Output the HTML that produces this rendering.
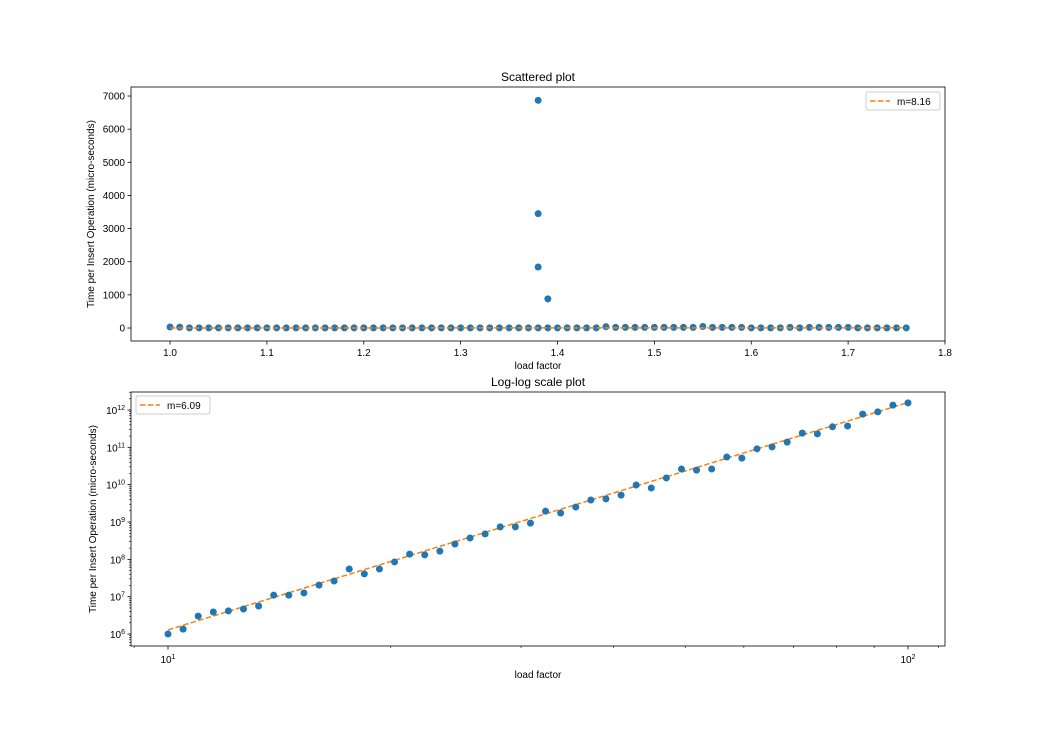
<!DOCTYPE html>
<html><head><meta charset="utf-8"><style>
body{margin:0;background:#fff}
svg text{font-family:"Liberation Sans","DejaVu Sans",sans-serif;fill:#000}
</style></head><body>
<svg id="s" width="1050" height="725" xmlns="http://www.w3.org/2000/svg"></svg>
<script>
const topX0=1.00, topStep=0.01;
const topValues=[30,25,5,5,5,5,5,5,5,5,5,5,5,5,5,5,5,5,5,5,5,5,5,5,5,5,5,5,5,5,5,5,5,5,5,5,5,5,5,5,5,5,5,5,5,40,20,20,20,20,20,20,20,20,20,45,20,20,20,20,5,5,5,5,20,5,20,20,20,20,20,5,5,5,5,5,5];
const outlierX=[1.38,1.38,1.38,1.39];
const outlierY=[6870,3450,1840,880];
const topSlope=8.16, topIntercept=0;
const topXTicks=[1.0,1.1,1.2,1.3,1.4,1.5,1.6,1.7,1.8];
const topXLabels=["1.0","1.1","1.2","1.3","1.4","1.5","1.6","1.7","1.8"];
const topYTicks=[0,1000,2000,3000,4000,5000,6000,7000];
const logLogY=[6.0,6.13,6.48,6.59,6.62,6.67,6.75,7.04,7.04,7.10,7.31,7.42,7.74,7.61,7.74,7.93,8.14,8.12,8.22,8.41,8.57,8.68,8.87,8.87,8.97,9.29,9.24,9.40,9.59,9.62,9.72,9.99,9.91,10.18,10.42,10.39,10.42,10.74,10.71,10.96,11.01,11.14,11.38,11.36,11.55,11.57,11.89,11.95,12.13,12.19];
const logFitSlope=6.09, logFitStart=6.11;
const logYTicks=[6,7,8,9,10,11,12];

const S=document.getElementById('s');const NS="http://www.w3.org/2000/svg";
function mk(t,a,p){const e=document.createElementNS(NS,t);for(const k in a)e.setAttribute(k,a[k]);(p||S).appendChild(e);return e;}
function txt(x,y,s,a,p){const e=mk('text',Object.assign({x:x,y:y,'font-size':10},a||{}),p);e.textContent=s;return e;}

// ---- Top plot
const A={l:131,r:945,t:87,b:341};
const tx=v=>A.l+(v-0.9597)/(1.8-0.9597)*(A.r-A.l);
const ty=v=>A.b-(v+392)/(7272+392)*(A.b-A.t);
const g1=mk('g',{});


topValues.forEach((v,i)=>{const c=mk('circle',{cx:tx(topX0+i*topStep),cy:ty(v),r:3.5,fill:'#1f77b4'},g1);

});
outlierX.forEach((x,i)=>{const c=mk('circle',{cx:tx(x),cy:ty(outlierY[i]),r:3.5,fill:'#1f77b4'},g1);

});
const xe=topX0+(topValues.length-1)*topStep;
const l1=mk('line',{x1:tx(topX0),y1:ty(topIntercept),x2:tx(xe),y2:ty(topIntercept+topSlope*(xe-topX0)),stroke:'#ff7f0e','stroke-width':1.5,'stroke-dasharray':'5.5,2.4'},g1);


mk('rect',{x:A.l,y:A.t,width:A.r-A.l,height:A.b-A.t,fill:'none',stroke:'#000','stroke-width':0.8});
topXTicks.forEach((v,i)=>{mk('line',{x1:tx(v),x2:tx(v),y1:A.b,y2:A.b+3.5,stroke:'#000','stroke-width':0.8});
const t=txt(tx(v),A.b+15,topXLabels[i],{'text-anchor':'middle'});

});
topYTicks.forEach(v=>{mk('line',{x1:A.l-3.5,x2:A.l,y1:ty(v),y2:ty(v),stroke:'#000','stroke-width':0.8});
const t=txt(A.l-6,ty(v)+3.5,String(v),{'text-anchor':'end'});

});
let t=txt(538,81,'Scattered plot',{'font-size':12,'text-anchor':'middle'});

t=txt(538,369,'load factor',{'text-anchor':'middle'});

t=txt(0,0,'Time per Insert Operation (micro-seconds)',{'text-anchor':'middle',transform:'translate(94,214) rotate(-90)'});

const lg1=mk('g',{});


mk('rect',{x:866,y:92,width:74,height:18,rx:2,fill:'#fff',stroke:'#ccc'},lg1);
mk('line',{x1:870,x2:890,y1:101,y2:101,stroke:'#ff7f0e','stroke-width':1.5,'stroke-dasharray':'5.5,2.4'},lg1);
txt(897,105,'m=8.16',{},lg1);

// ---- Bottom plot
const B={l:131,r:945,t:392,b:646};
const bx=lv=>B.l+(lv-0.95)/(2.05-0.95)*(B.r-B.l);
const by=lv=>B.b-(lv-5.679)/(12.482-5.679)*(B.b-B.t);
const g2=mk('g',{});


const n=logLogY.length;
const fl=mk('line',{x1:bx(1),y1:by(logFitStart),x2:bx(2),y2:by(logFitStart+logFitSlope),stroke:'#ff7f0e','stroke-width':1.5,'stroke-dasharray':'5.5,2.4'},g2);


logLogY.forEach((v,i)=>{const c=mk('circle',{cx:bx(1+i/(n-1)),cy:by(v),r:3.5,fill:'#1f77b4'},g2);

});
mk('rect',{x:B.l,y:B.t,width:B.r-B.l,height:B.b-B.t,fill:'none',stroke:'#000','stroke-width':0.8});
[9,10,20,30,40,50,60,70,80,90,100,110].forEach(v=>{const lv=Math.log10(v);const x=bx(lv);if(x<B.l||x>B.r)return;
const maj=(v===10||v===100);mk('line',{x1:x,x2:x,y1:B.b,y2:B.b+(maj?3.5:2),stroke:'#000','stroke-width':maj?0.8:0.6});});
[[1,'10'],[2,'10']].forEach(([lv,b])=>{const e=mk('text',{x:bx(lv),y:B.b+17,'font-size':10,'text-anchor':'middle'});e.innerHTML=b+'<tspan dy="-4" font-size="7">'+lv+'</tspan>';
});
for(let d=5;d<=12;d++){for(let k=1;k<10;k++){const lv=d+Math.log10(k);const y=by(lv);if(y<B.t||y>B.b)continue;
mk('line',{x1:B.l-(k===1?3.5:2),x2:B.l,y1:y,y2:y,stroke:'#000','stroke-width':k===1?0.8:0.6});}}
logYTicks.forEach(d=>{const e=mk('text',{x:B.l-6,y:by(d)+4,'font-size':10,'text-anchor':'end'});e.innerHTML='10<tspan dy="-4" font-size="7">'+d+'</tspan>';
});
t=txt(538,386,'Log-log scale plot',{'font-size':12,'text-anchor':'middle'});

t=txt(538,678,'load factor',{'text-anchor':'middle'});

t=txt(0,0,'Time per Insert Operation (micro-seconds)',{'text-anchor':'middle',transform:'translate(96,519) rotate(-90)'});

const lg2=mk('g',{});


mk('rect',{x:136,y:396,width:74,height:18,rx:2,fill:'#fff',stroke:'#ccc'},lg2);
mk('line',{x1:140,x2:160,y1:405,y2:405,stroke:'#ff7f0e','stroke-width':1.5,'stroke-dasharray':'5.5,2.4'},lg2);
txt(167,409,'m=6.09',{},lg2);
</script>
</body></html>
